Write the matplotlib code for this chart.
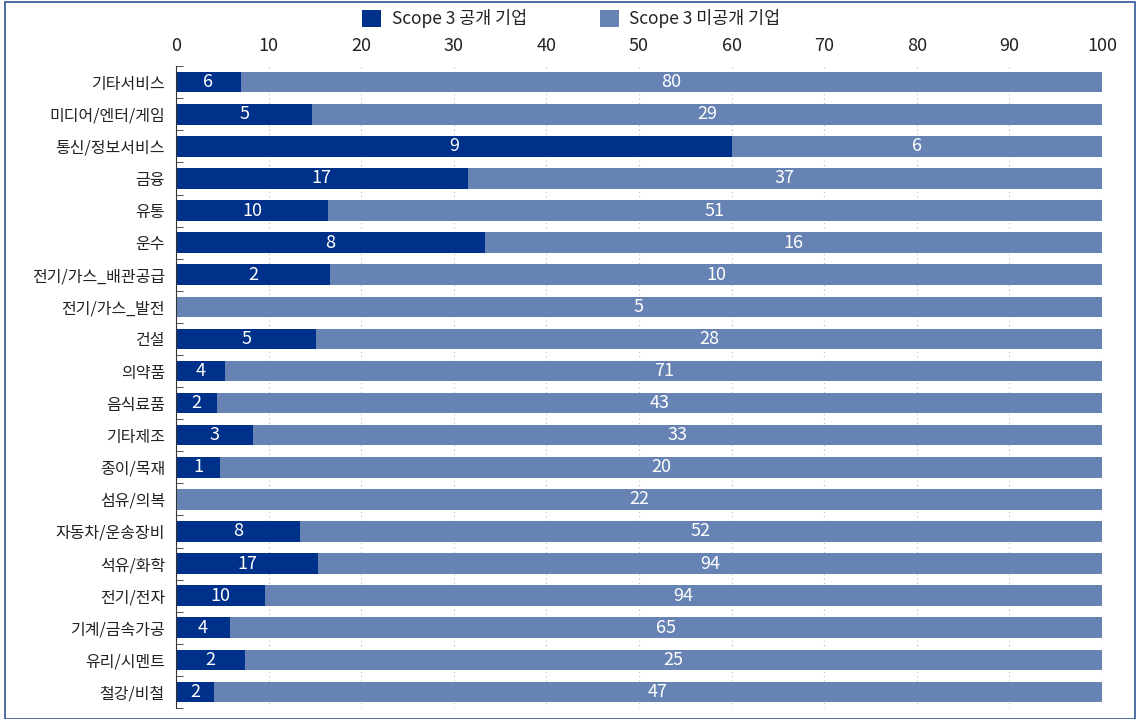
import matplotlib
matplotlib.use("Agg")
import matplotlib.pyplot as plt
from matplotlib.patches import Rectangle
import numpy as np

plt.rcParams['font.family'] = ['Noto Sans CJK KR', 'DejaVu Sans']

업종 = ["기타서비스", "미디어/엔터/게임", "통신/정보서비스", "금융", "유통", "운수",
      "전기/가스_배관공급", "전기/가스_발전", "건설", "의약품", "음식료품", "기타제조",
      "종이/목재", "섬유/의복", "자동차/운송장비", "석유/화학", "전기/전자",
      "기계/금속가공", "유리/시멘트", "철강/비철"]
공개 = [6, 5, 9, 17, 10, 8, 2, 0, 5, 4, 2, 3, 1, 0, 8, 17, 10, 4, 2, 2]
미공개 = [80, 29, 6, 37, 51, 16, 10, 5, 28, 71, 43, 33, 20, 22, 52, 94, 94, 65, 25, 47]

공개 = np.array(공개)
미공개 = np.array(미공개)
합계 = 공개 + 미공개
공개비율 = 공개 / 합계 * 100
미공개비율 = 미공개 / 합계 * 100

c_dark = "#00318A"
c_light = "#6683B4"

fig = plt.figure(figsize=(11.36, 7.19), dpi=100)
ax = fig.add_axes([0.155, 0.0153, 0.815, 0.8927])

y = np.arange(len(업종))
b1 = ax.barh(y, 공개비율, height=0.64, color=c_dark, label="Scope 3 공개 기업", zorder=2)
b2 = ax.barh(y, 미공개비율, left=공개비율, height=0.64, color=c_light,
             label="Scope 3 미공개 기업", zorder=2)

for i in range(len(업종)):
    if 공개[i] > 0:
        ax.text(공개비율[i] / 2, y[i], str(공개[i]), color="white", ha="center",
                va="center", fontsize=13, zorder=3)
    if 미공개[i] > 0:
        ax.text(공개비율[i] + 미공개비율[i] / 2, y[i], str(미공개[i]), color="white",
                ha="center", va="center", fontsize=13, zorder=3)

ax.set_xlim(0, 100)
ax.set_ylim(len(업종) - 0.5, -0.5)
ax.set_xticks(np.arange(0, 101, 10))
ax.xaxis.tick_top()
ax.tick_params(axis="x", length=0, labelsize=13, pad=8, colors="#222222")
ax.grid(axis="x", color="#BBBBBB", linestyle=(0, (1, 3)), linewidth=0.8, zorder=0)

ax.set_yticks(y)
ax.set_yticklabels(업종, fontsize=11.5, color="#222222")
ax.tick_params(axis="y", which="major", length=0, pad=8)
ax.set_yticks(np.arange(-0.5, len(업종), 1), minor=True)
ax.tick_params(axis="y", which="minor", length=5, direction="in", color="#333333")

for s in ["top", "right", "bottom"]:
    ax.spines[s].set_visible(False)
ax.spines["left"].set_color("#333333")

fig.legend(handles=[b1, b2], loc="center", bbox_to_anchor=(0.503, 0.974), ncol=2,
           frameon=False, fontsize=12.5, handlelength=1.1, handleheight=1.1,
           columnspacing=4.2, handletextpad=0.6, labelcolor="#222222")

fig.patches.append(Rectangle((0.004, 0.0), 0.995, 0.997, transform=fig.transFigure,
                             fill=False, edgecolor="#2F5597", linewidth=1.2))

fig.savefig("out.png", dpi=100)
